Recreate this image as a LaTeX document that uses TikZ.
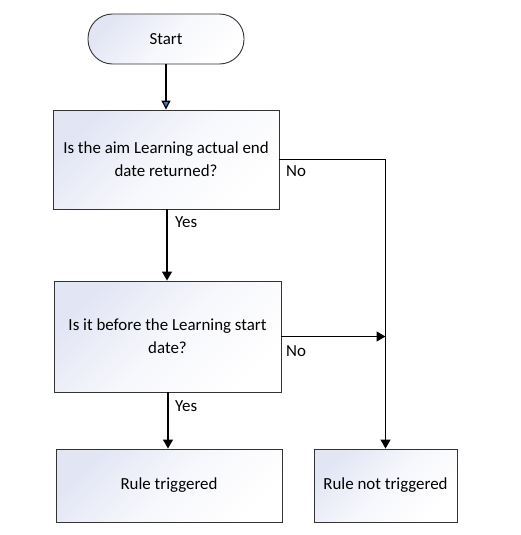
\documentclass[tikz,border=0pt]{standalone}
\usepackage{fontspec}
\setmainfont{Carlito}
\usetikzlibrary{arrows.meta,calc}
\definecolor{shadeA}{RGB}{226,229,244}
\definecolor{tipblue}{RGB}{79,111,168}
\begin{document}
\begin{tikzpicture}[x=1pt,y=-1pt,
  font=\fontsize{16.9}{23}\selectfont,
  box/.style={draw=black!80, line width=0.9pt, top color=shadeA, bottom color=white, middle color=white!70!shadeA, shading angle=45, align=center, inner sep=0pt, minimum width=#1},
  conn/.style={draw=black, line width=1.2pt, -{Triangle[width=10pt,length=9pt]}},
  lab/.style={inner sep=0pt, anchor=west}
]
\useasboundingbox (0,0) rectangle (520,535);
\node[box=156pt, minimum height=50pt, rounded corners=24.5pt] (start) at (166,39) {Start};
\node[box=226pt, minimum height=99pt] (q1) at (166,159.5) {Is the aim Learning actual end\\date returned?};
\node[box=227pt, minimum height=111pt] (q2) at (167.5,336.5) {Is it before the Learning start\\date?};
\node[box=226pt, minimum height=73pt] (r1) at (169,485.5) {Rule triggered};
\node[box=143pt, minimum height=73pt] (r2) at (385.5,485.5) {Rule not triggered};
\coordinate (c1) at (r2.north |- q1.east);
\coordinate (c2) at (r2.north |- q2.east);
\draw[line width=1.2pt, -{Triangle[width=9pt,length=9pt,fill=tipblue]}] (start) -- (q1);
\draw[conn] (q1.south -| 167,0) -- (q2.north -| 167,0);
\draw[conn] (q2.south -| 168,0) -- (r1.north -| 168,0);
\draw[line width=1.2pt] (q1.east) -- (c1);
\draw[conn] (c1) -- (r2.north);
\draw[conn] (q2.east) -- (c2);
\node[lab] (n1) at (286,171) {No};
\node[lab] (n2) at (286,351) {No};
\node[lab] (y1) at (175,222) {Yes};
\node[lab] (y2) at (175,406) {Yes};
\end{tikzpicture}
\end{document}
